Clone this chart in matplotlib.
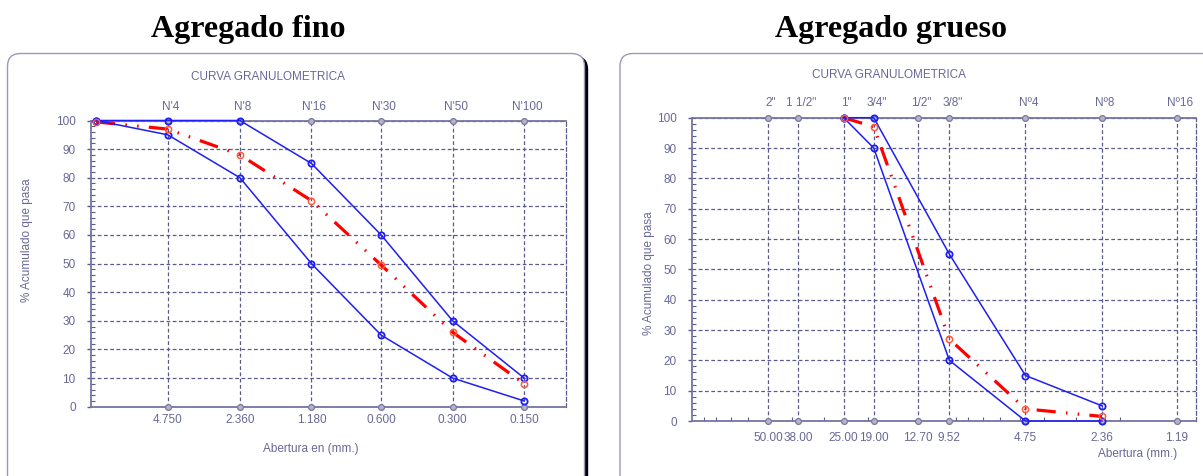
import numpy as np
import matplotlib.pyplot as plt
import matplotlib.transforms as mtransforms
from matplotlib.patches import FancyBboxPatch
from matplotlib.ticker import FixedLocator, NullFormatter, LogLocator

W, H = 1203, 476

# ---- agregado fino ----
fino_abertura = [9.52, 4.75, 2.36, 1.18, 0.60, 0.30, 0.15]
fino_sup = [100, 100, 100, 85, 60, 30, 10]
fino_inf = [100, 95, 80, 50, 25, 10, 2]
fino_curva = [99.5, 97, 88, 72, 49.5, 26, 8]
fino_ticks = [4.75, 2.36, 1.18, 0.60, 0.30, 0.15]
fino_ticklabels = ['4.750', '2.360', '1.180', '0.600', '0.300', '0.150']
fino_tamiz = ["N'4", "N'8", "N'16", "N'30", "N'50", "N'100"]

# ---- agregado grueso ----
grueso_abertura = [25.0, 19.0, 9.52, 4.75, 2.36]
grueso_sup = [100, 100, 55, 15, 5]
grueso_inf = [100, 90, 20, 0, 0]
grueso_curva = [100, 97, 27, 4, 1.5]
grueso_ticks = [50.0, 38.0, 25.0, 19.0, 12.7, 9.52, 4.75, 2.36, 1.19]
grueso_ticklabels = ['50.00', '38.00', '25.00', '19.00', '12.70', '9.52', '4.75', '2.36', '1.19']
grueso_tamiz = ['2"', '1 1/2"', '1"', '3/4"', '1/2"', '3/8"', 'Nº4', 'Nº8', 'Nº16']

TXT = '#686898'
GRID = '#5a5a8c'
BLUE = '#1e1ef5'
RED = '#ff0000'
FONT = 'Liberation Sans'
FS = 8.5

plt.rcParams['font.family'] = [FONT, 'DejaVu Sans']

fig = plt.figure(figsize=(W / 100, H / 100), dpi=100)
inch = fig.dpi_scale_trans


def box(x0, y0, x1, y1, shadow=False):
    # image pixel coords (origin top-left)
    r = FancyBboxPatch((x0 / 100, (H - y1) / 100), (x1 - x0) / 100, (y1 - y0) / 100,
                       boxstyle='round,pad=0,rounding_size=0.13', transform=inch,
                       facecolor='white', edgecolor='#9a9ab8', lw=1.0, zorder=-5)
    if shadow:
        s = FancyBboxPatch(((x0 + 3) / 100, (H - y1 - 3) / 100), (x1 - x0) / 100, (y1 - y0) / 100,
                           boxstyle='round,pad=0,rounding_size=0.13', transform=inch,
                           facecolor='black', edgecolor='black', lw=1.0, zorder=-6)
        fig.patches.append(s)
    fig.patches.append(r)


box(7.5, 53.5, 584.5, 490, shadow=True)
box(620, 53.5, 1225, 490)


def ftext(x, y, s, **kw):
    fig.text(x / W, 1 - y / H, s, **kw)


ftext(248, 29, 'Agregado fino', family='Liberation Serif', fontweight='bold',
      fontsize=23, ha='center', va='center', color='black')
ftext(891, 29, 'Agregado grueso', family='Liberation Serif', fontweight='bold',
      fontsize=23, ha='center', va='center', color='black')


def chart(rect, xlim, abertura, sup, inf, curva, ticks, ticklabels, tamiz,
          bpad, tpad, minor_bottom):
    x0, y0, x1, y1 = rect
    ax = fig.add_axes([x0 / W, 1 - y1 / H, (x1 - x0) / W, (y1 - y0) / H])
    ax.patch.set_alpha(0)
    ax.set_xscale('log')
    ax.set_xlim(*xlim)
    ax.set_ylim(0, 100)

    ax.set_yticks(np.arange(0, 101, 10))
    ax.yaxis.set_minor_locator(FixedLocator(np.arange(0, 101, 2)))
    ax.tick_params(axis='y', which='major', direction='out', length=3, width=1,
                   color=GRID, labelcolor=TXT, labelsize=FS, pad=8)
    ax.tick_params(axis='y', which='minor', direction='in', length=3, width=0.8, color=GRID)

    ax.xaxis.set_major_locator(FixedLocator(ticks))
    ax.set_xticklabels(ticklabels)
    if minor_bottom:
        ax.xaxis.set_minor_locator(LogLocator(base=10, subs=np.arange(2, 10)))
    else:
        ax.xaxis.set_minor_locator(FixedLocator([]))
    ax.xaxis.set_minor_formatter(NullFormatter())
    ax.tick_params(axis='x', which='major', length=0, labelcolor=TXT, labelsize=FS, pad=bpad)
    ax.tick_params(axis='x', which='minor', direction='in', length=3, width=0.8, color=GRID)

    ax.grid(True, which='major', axis='both', color=GRID, linestyle=(0, (3, 2)), lw=0.9)
    for k in ['left', 'bottom', 'top']:
        ax.spines[k].set_color('#7474a4')
        ax.spines[k].set_linewidth(1.3)
    ax.spines['right'].set_color(GRID)
    ax.spines['right'].set_linestyle((0, (3, 2)))
    ax.spines['right'].set_linewidth(0.9)

    top = ax.twiny()
    top.set_xscale('log')
    top.set_xlim(*xlim)
    top.xaxis.set_major_locator(FixedLocator(ticks))
    top.xaxis.set_minor_locator(FixedLocator([]))
    top.set_xticklabels(tamiz)
    top.tick_params(axis='x', length=0, labelcolor=TXT, labelsize=FS, pad=tpad)
    off = mtransforms.ScaledTranslation(3 / 100, 0, inch)
    for lbl in top.get_xticklabels():
        lbl.set_transform(lbl.get_transform() + off)
    for sp in top.spines.values():
        sp.set_visible(False)

    # gray sieve markers on top and bottom
    n = len(ticks)
    for yy in (0, 100):
        ax.plot(ticks, [yy] * n, 'o', ms=4.2, mfc='#b4b4c8', mec='#7878a0', mew=0.9,
                clip_on=False, zorder=3)

    ax.plot(abertura, sup, '-o', color=BLUE, lw=1.1, ms=4.5, mfc='none', mew=1.3,
            clip_on=False, zorder=5)
    ax.plot(abertura, inf, '-o', color=BLUE, lw=1.1, ms=4.5, mfc='none', mew=1.3,
            clip_on=False, zorder=5)
    ax.plot(abertura, curva, color=RED, lw=2.3, linestyle=(0, (6, 3.2, 0.5, 3.2, 0.5, 3.2)),
            clip_on=False, zorder=4)
    ax.plot(abertura, curva, 'o', ms=4.5, mfc='none', mec='#ff5a3c', mew=1.1,
            clip_on=False, zorder=6)
    return ax


chart((91, 120.5, 566, 406.7), (10, 0.1), fino_abertura, fino_sup, fino_inf, fino_curva,
      fino_ticks, fino_ticklabels, fino_tamiz, bpad=5, tpad=5.5, minor_bottom=False)
chart((692, 117.7, 1196, 421), (100, 1), grueso_abertura, grueso_sup, grueso_inf, grueso_curva,
      grueso_ticks, grueso_ticklabels, grueso_tamiz, bpad=8, tpad=6, minor_bottom=True)

ftext(268, 77, 'CURVA GRANULOMETRICA', fontsize=FS, color=TXT, ha='center', va='center')
ftext(889, 75, 'CURVA GRANULOMETRICA', fontsize=FS, color=TXT, ha='center', va='center')
ftext(27, 240, '% Acumulado que pasa', fontsize=FS, color=TXT, ha='center', va='center',
      rotation=90)
ftext(649, 273, '% Acumulado que pasa', fontsize=FS, color=TXT, ha='center', va='center',
      rotation=90)
ftext(311, 449, 'Abertura en (mm.)', fontsize=FS, color=TXT, ha='center', va='center')
ftext(1138, 454, 'Abertura (mm.)', fontsize=FS, color=TXT, ha='center', va='center')

fig.savefig('out.png', dpi=100)
